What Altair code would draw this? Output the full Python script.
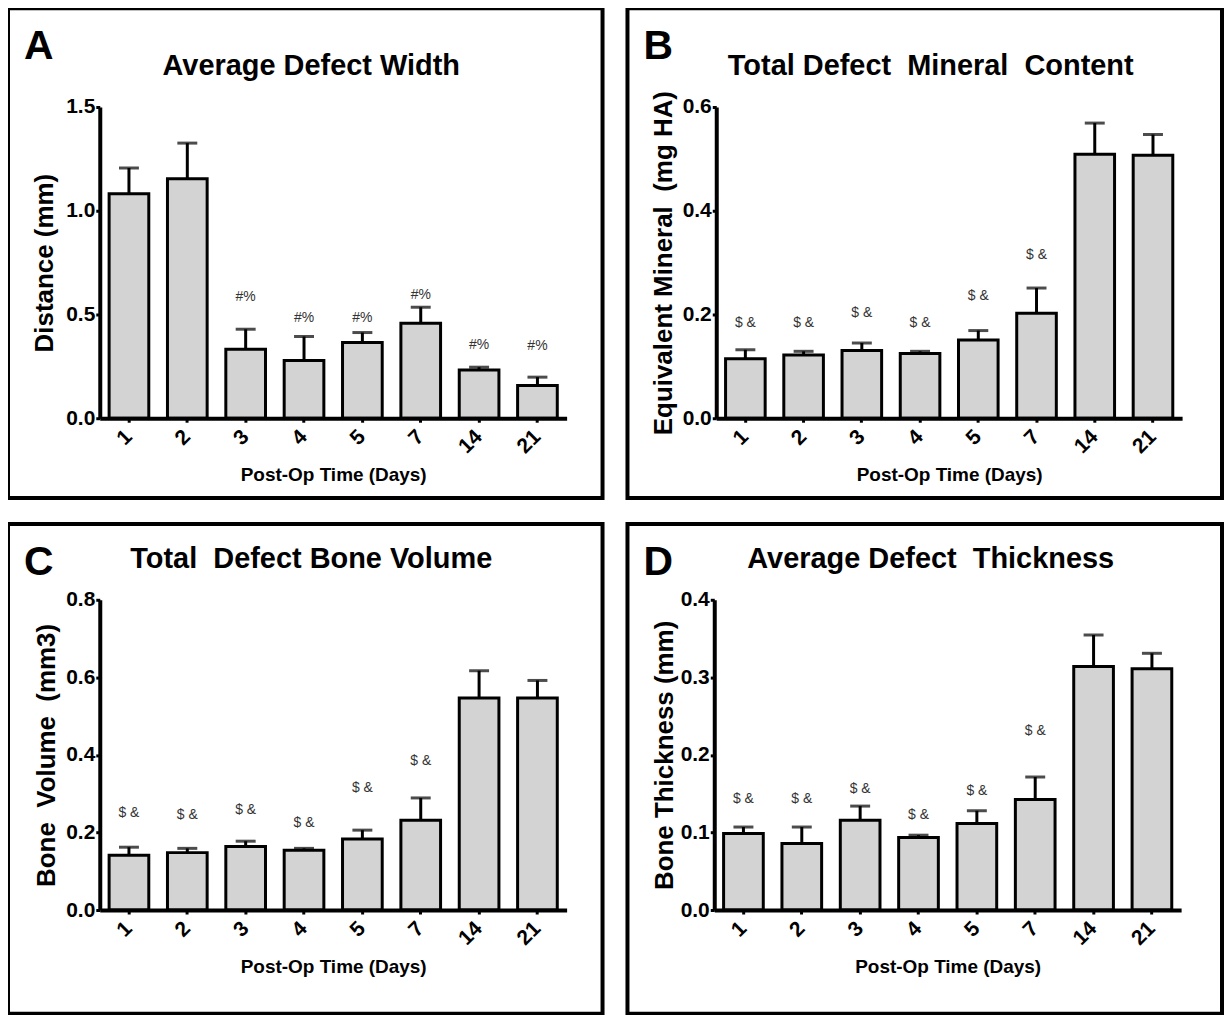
import altair as alt
import pandas as pd

FONT = "Liberation Sans"

days = ["1", "2", "3", "4", "5", "7", "14", "21"]

# Panel A: Average Defect Width
a_mean = [1.082, 1.154, 0.333, 0.278, 0.365, 0.458, 0.233, 0.158]
a_sem = [0.124, 0.172, 0.096, 0.116, 0.048, 0.077, 0.013, 0.040]
a_sig = ["", "", "#%", "#%", "#%", "#%", "#%", "#%"]
a_sig_y = [0, 0, 0.582, 0.482, 0.482, 0.595, 0.354, 0.346]

# Panel B: Total Defect Mineral Content
b_mean = [0.1145, 0.122, 0.1305, 0.125, 0.151, 0.2026, 0.509, 0.507]
b_sem = [0.0175, 0.007, 0.0145, 0.004, 0.018, 0.0484, 0.060, 0.040]
b_sig = ["$ &", "$ &", "$ &", "$ &", "$ &", "$ &", "", ""]
b_sig_y = [0.183, 0.183, 0.203, 0.183, 0.236, 0.314, 0, 0]

# Panel C: Total Defect Bone Volume
c_mean = [0.1415, 0.148, 0.164, 0.154, 0.183, 0.2315, 0.547, 0.547]
c_sem = [0.0205, 0.011, 0.0135, 0.005, 0.023, 0.0575, 0.070, 0.045]
c_sig = ["$ &", "$ &", "$ &", "$ &", "$ &", "$ &", "", ""]
c_sig_y = [0.250, 0.246, 0.257, 0.225, 0.315, 0.385, 0, 0]

# Panel D: Average Defect Thickness
d_mean = [0.0986, 0.0858, 0.1158, 0.0935, 0.1115, 0.1424, 0.314, 0.311]
d_sem = [0.0084, 0.0212, 0.0182, 0.003, 0.0165, 0.0291, 0.0406, 0.020]
d_sig = ["$ &", "$ &", "$ &", "$ &", "$ &", "$ &", "", ""]
d_sig_y = [0.1437, 0.1437, 0.1565, 0.122, 0.154, 0.231, 0, 0]

W, H = 596, 491


def panel(letter, title, ytitle, mean, sem, sig, sig_y, ticks, xr, yr,
          letter_y, title_y, title_x, ytitle_x):
    df = pd.DataFrame({
        "day": days,
        "mean": mean,
        "top": [m + s for m, s in zip(mean, sem)],
        "sig": sig,
        "sig_y": sig_y,
    })
    ymax = ticks[-1]
    xscale = alt.Scale(range=xr, paddingInner=0.32, paddingOuter=0.16)
    yscale = alt.Scale(domain=[0, ymax], range=yr, nice=False, zero=True)
    xaxis = alt.Axis(
        title="Post-Op Time (Days)", offset=-(H - yr[0]), labelAngle=-45,
        labelAlign="right", labelBaseline="middle", labelPadding=11,
        labelFont=FONT, labelFontSize=21, labelFontWeight="bold", labelColor="black",
        titleFont=FONT, titleFontSize=19, titleFontWeight="bold", titleColor="black",
        titlePadding=9, domainColor="black", domainWidth=4, tickColor="black",
        tickWidth=3, tickSize=4, grid=False, zindex=1,
    )
    yaxis = alt.Axis(
        title=ytitle, offset=-xr[0], values=ticks, format=".1f",
        labelFont=FONT, labelFontSize=21, labelFontWeight="bold", labelColor="black",
        labelPadding=1,
        titleFont=FONT, titleFontSize=26, titleFontWeight="bold", titleColor="black",
        titleX=ytitle_x, titleY=(yr[0] + yr[1]) / 2, titleAngle=-90,
        titleAlign="center", titleBaseline="middle",
        domainColor="black", domainWidth=4, tickColor="black", tickWidth=3,
        tickSize=4, grid=False, zindex=1,
    )
    x = alt.X("day:N", sort=days, scale=xscale, axis=xaxis)
    base = alt.Chart(df)
    bars = base.mark_bar(fill="#d3d3d3", stroke="black", strokeWidth=3).encode(
        x=x, y=alt.Y("mean:Q", scale=yscale, axis=yaxis)
    )
    err = base.mark_rule(color="black", strokeWidth=3).encode(
        x=alt.X("day:N", sort=days), y="mean:Q", y2="top:Q"
    )
    cap = base.mark_tick(color="black", thickness=3, size=20).encode(
        x=alt.X("day:N", sort=days), y="top:Q"
    )
    sigtext = base.transform_filter("datum.sig != ''").mark_text(
        font=FONT, fontSize=14, color="#333333", baseline="middle"
    ).encode(x=alt.X("day:N", sort=days), y="sig_y:Q", text="sig:N")
    letter_mark = alt.Chart(pd.DataFrame({"t": [letter]})).mark_text(
        font=FONT, fontSize=41, fontWeight="bold", align="left",
        baseline="alphabetic", color="black"
    ).encode(x=alt.value(16), y=alt.value(letter_y), text="t:N")
    title_mark = alt.Chart(pd.DataFrame({"t": [title]})).mark_text(
        font=FONT, fontSize=29, fontWeight="bold", align="center",
        baseline="alphabetic", color="black"
    ).encode(x=alt.value(title_x), y=alt.value(title_y), text="t:N")
    return alt.layer(bars, err, cap, sigtext, letter_mark, title_mark).properties(
        width=W, height=H
    )


NB = "\u00a0"
pa = panel("A", "Average Defect Width", "Distance (mm)", a_mean, a_sem, a_sig,
           a_sig_y, [0, 0.5, 1.0, 1.5], [92, 560], [411, 99], 51, 67, 304, -55)
pb = panel("B", "Total Defect " + NB + "Mineral " + NB + "Content",
           "Equivalent Mineral " + NB + "(mg HA)", b_mean, b_sem, b_sig, b_sig_y,
           [0, 0.2, 0.4, 0.6], [89, 556], [411, 99], 51, 67, 304, -53)
pc = panel("C", "Total " + NB + "Defect Bone Volume", "Bone " + NB + "Volume " + NB + "(mm3)",
           c_mean, c_sem, c_sig, c_sig_y, [0, 0.2, 0.4, 0.6, 0.8], [92, 560],
           [387, 76], 51, 44, 304, -53)
pd_ = panel("D", "Average Defect " + NB + "Thickness", "Bone Thickness (mm)",
            d_mean, d_sem, d_sig, d_sig_y, [0, 0.1, 0.2, 0.3, 0.4], [87, 555],
            [387, 76], 51, 44, 304, -50)

chart = alt.vconcat(
    alt.hconcat(pa, pb, spacing=21),
    alt.hconcat(pc, pd_, spacing=21),
    spacing=22,
).properties(
    padding={"left": -2, "top": -3, "right": 0, "bottom": 0}
).configure(
    background="white"
).configure_view(
    stroke="black", strokeWidth=4, fill="white"
)

chart.save("out.html", embed_options={"renderer": "svg", "actions": False})
